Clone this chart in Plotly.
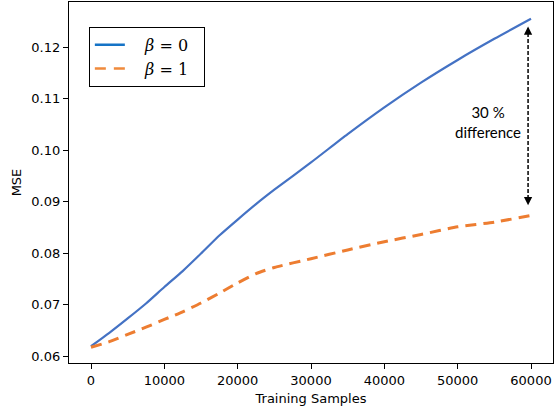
import plotly.graph_objects as go

# Training-set size vs. mean squared error for two beta settings
samples = [0, 2500, 5000, 7500, 10000, 12500, 15000, 17500, 20000, 22500, 25000,
           30000, 35000, 40000, 45000, 50000, 55000, 60000]
mse_beta0 = [0.0619, 0.0645, 0.0673, 0.0702, 0.0734, 0.0765, 0.0799, 0.0834, 0.0865,
             0.0895, 0.0923, 0.0976, 0.1031, 0.1083, 0.1131, 0.1175, 0.1216, 0.1255]
mse_beta1 = [0.0617, 0.0628, 0.0642, 0.0656, 0.0671, 0.0686, 0.0703, 0.0722, 0.0742,
             0.0760, 0.0772, 0.0789, 0.0806, 0.0822, 0.0836, 0.0851, 0.0860, 0.0873]

series_names = ["<i>β</i> = 0", "<i>β</i> = 1"]
line_colors = ["#4472C4", "#ED7D31"]
key_colors = ["#1573C6", "#F08A3C"]

x_ticks = [0, 10000, 20000, 30000, 40000, 50000, 60000]
y_ticks = [0.06, 0.07, 0.08, 0.09, 0.10, 0.11, 0.12]
y_tick_text = ["0.06", "0.07", "0.08", "0.09", "0.10", "0.11", "0.12"]

gap_x = 59600
gap_top = 0.1240
gap_bottom = 0.0893

fig = go.Figure()

fig.add_trace(go.Scatter(
    x=samples, y=mse_beta0, mode="lines", showlegend=False,
    line=dict(color=line_colors[0], width=2.2, shape="spline", smoothing=0.6),
))
fig.add_trace(go.Scatter(
    x=samples, y=mse_beta1, mode="lines", showlegend=False,
    line=dict(color=line_colors[1], width=3, dash="11px,7px", shape="spline", smoothing=0.6),
))

# legend keys
pad_l = "\u00a0\u00a0\u00a0"
pad_r = "\u00a0\u00a0"
fig.add_trace(go.Scatter(
    x=[None], y=[None], mode="lines", name=pad_l + series_names[0] + pad_r,
    line=dict(color=key_colors[0], width=2.5),
))
fig.add_trace(go.Scatter(
    x=[None], y=[None], mode="lines", name=pad_l + series_names[1] + pad_r,
    line=dict(color=key_colors[1], width=2.5, dash="11px,8px"),
))

# dashed double-headed arrow marking the gap at the last point
fig.add_shape(type="line", x0=gap_x, x1=gap_x, y0=gap_bottom + 0.0012, y1=gap_top - 0.0012,
              xref="x", yref="y", line=dict(color="black", width=1.5, dash="4px,2px"))
for tip, ay in [(gap_top, 8), (gap_bottom, -8)]:
    fig.add_annotation(x=gap_x, y=tip, xref="x", yref="y", ax=0, ay=ay, text="",
                       showarrow=True, arrowhead=2, arrowsize=1.1, arrowwidth=1.5,
                       arrowcolor="black")

fig.add_annotation(x=54200, y=0.1054, xref="x", yref="y", showarrow=False,
                   text="30 %<br>difference",
                   font=dict(family="Lato, Open Sans, sans-serif", size=15, color="black"),
                   align="center")

axis_font = dict(family="DejaVu Sans", size=13, color="black")

fig.update_xaxes(
    range=[-3000, 63000], tickvals=x_ticks, ticktext=[str(v) for v in x_ticks],
    ticks="outside", ticklen=5, tickwidth=1, tickcolor="black",
    showline=True, linecolor="black", linewidth=1.2, mirror=True,
    showgrid=False, zeroline=False, tickfont=axis_font,
    title=dict(text="Training Samples", font=axis_font, standoff=7),
)
fig.update_yaxes(
    range=[0.05865, 0.12875], tickvals=y_ticks, ticktext=y_tick_text,
    ticks="outside", ticklen=5, tickwidth=1, tickcolor="black",
    showline=True, linecolor="black", linewidth=1.2, mirror=True,
    showgrid=False, zeroline=False, tickfont=axis_font,
    title=dict(text="MSE", font=axis_font, standoff=6),
)

fig.update_layout(
    width=554, height=409,
    margin=dict(l=69, r=1, t=2, b=46),
    plot_bgcolor="white", paper_bgcolor="white",
    legend=dict(
        x=0.041, y=0.931, xanchor="left", yanchor="top",
        bgcolor="white", bordercolor="black", borderwidth=1,
        font=dict(family="DejaVu Serif", size=16, color="black"),
        itemwidth=30, tracegroupgap=0,
    ),
)

fig.write_html("out.html")
